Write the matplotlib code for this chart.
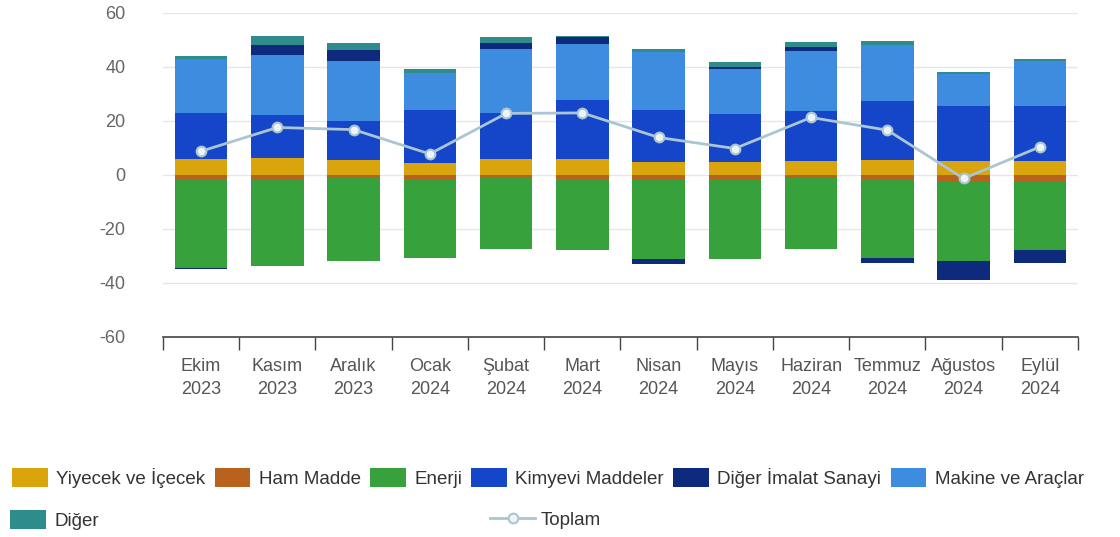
import matplotlib
matplotlib.use("Agg")
import matplotlib.pyplot as plt
import numpy as np
from matplotlib.patches import Patch
from matplotlib.lines import Line2D

plt.rcParams['font.family'] = ['Liberation Sans', 'DejaVu Sans']
plt.rcParams['axes.unicode_minus'] = False

months = ["Ekim\n2023", "Kasım\n2023", "Aralık\n2023", "Ocak\n2024", "Şubat\n2024", "Mart\n2024",
          "Nisan\n2024", "Mayıs\n2024", "Haziran\n2024", "Temmuz\n2024", "Ağustos\n2024", "Eylül\n2024"]

yiyecek = [6.0, 6.3, 5.3, 4.2, 6.0, 6.0, 4.7, 4.7, 5.2, 5.6, 5.1, 5.2]
ham_madde = [-1.5, -1.8, -1.3, -1.6, -1.3, -1.6, -2.0, -1.6, -1.3, -2.0, -2.6, -2.3]
enerji = [-33.0, -32.0, -30.6, -29.3, -26.4, -26.4, -29.3, -29.7, -26.4, -28.9, -29.3, -25.7]
kimyevi = [17.0, 16.0, 14.6, 19.9, 16.7, 21.6, 19.2, 17.7, 18.4, 21.7, 20.3, 20.2]
diger_imalat = [-0.6, 3.7, 4.1, 0.0, 2.2, 2.5, -1.6, 0.9, 1.4, -1.8, -7.1, -4.7]
makine = [19.7, 22.2, 22.1, 13.7, 24.0, 21.0, 21.6, 16.6, 22.3, 20.7, 11.8, 16.7]
diger = [1.3, 3.0, 2.8, 1.2, 2.2, 0.3, 1.2, 1.9, 1.9, 1.6, 0.7, 0.9]
toplam = [8.7, 17.5, 16.7, 7.7, 22.7, 22.9, 13.8, 9.7, 21.2, 16.5, -1.4, 10.3]

colors = {
    "Yiyecek ve İçecek": "#d9a40c",
    "Ham Madde": "#b8621e",
    "Enerji": "#37a23b",
    "Kimyevi Maddeler": "#1545c9",
    "Diğer İmalat Sanayi": "#0e2a7c",
    "Makine ve Araçlar": "#3d8ce0",
    "Diğer": "#2e8c8c",
}
line_color = "#a9c6d2"

series = {
    "Yiyecek ve İçecek": yiyecek,
    "Ham Madde": ham_madde,
    "Enerji": enerji,
    "Kimyevi Maddeler": kimyevi,
    "Diğer İmalat Sanayi": diger_imalat,
    "Makine ve Araçlar": makine,
    "Diğer": diger,
}
# order in which the stacks are built (positive up, negative down)
stack_order = ["Yiyecek ve İçecek", "Ham Madde", "Kimyevi Maddeler", "Enerji",
               "Makine ve Araçlar", "Diğer İmalat Sanayi", "Diğer"]

fig = plt.figure(figsize=(11.2, 5.37), dpi=100)
ax = fig.add_axes([0.1455, 0.373, 0.817, 0.6033])

x = np.arange(len(months))
pos_base = np.zeros(len(months))
neg_base = np.zeros(len(months))
for name in stack_order:
    v = np.array(series[name])
    bottom = np.where(v >= 0, pos_base, neg_base)
    ax.bar(x, v, width=0.69, bottom=bottom, color=colors[name], linewidth=0, zorder=2)
    pos_base = pos_base + np.where(v >= 0, v, 0)
    neg_base = neg_base + np.where(v < 0, v, 0)

ax.plot(x, toplam, color=line_color, lw=2, marker='o', ms=7, mfc='#eef4f6',
        mec=line_color, mew=1.5, zorder=4)

ax.set_xlim(-0.5, len(months) - 0.5)
ax.set_ylim(-60, 60)
ax.set_yticks(range(-60, 61, 20))
ax.yaxis.grid(True, color='#e6e6e6', lw=1, zorder=0)
ax.set_axisbelow(True)
for s in ['top', 'right', 'left']:
    ax.spines[s].set_visible(False)
ax.spines['bottom'].set_color('#444444')
ax.spines['bottom'].set_linewidth(1.2)

ax.set_xticks(x)
ax.set_xticklabels(months, fontsize=13, color='#555555', linespacing=1.5)
ax.tick_params(axis='x', which='major', length=0, pad=15)
ax.set_xticks(np.arange(-0.5, len(months), 1), minor=True)
ax.tick_params(axis='x', which='minor', length=9, width=1, color='#444444')
ax.tick_params(axis='y', length=0, labelsize=13, labelcolor='#666666', pad=27)

# legend
row1 = ["Yiyecek ve İçecek", "Ham Madde", "Enerji", "Kimyevi Maddeler",
        "Diğer İmalat Sanayi", "Makine ve Araçlar"]
h1 = [Patch(facecolor=colors[n], edgecolor='none') for n in row1]
fig.legend(h1, row1, loc='center left', bbox_to_anchor=(12 / 1120, 1 - 478 / 537),
           ncol=6, frameon=False, fontsize=13.5, handlelength=1.9, handleheight=1.2,
           handletextpad=0.45, columnspacing=0.5, borderpad=0, borderaxespad=0,
           labelcolor='#333333')
fig.legend([Patch(facecolor=colors["Diğer"], edgecolor='none')], ["Diğer"],
           loc='center left', bbox_to_anchor=(10 / 1120, 1 - 520 / 537),
           frameon=False, fontsize=13.5, handlelength=1.9, handleheight=1.2,
           handletextpad=0.5, borderpad=0, borderaxespad=0, labelcolor='#333333')
fig.legend([Line2D([], [], color=line_color, lw=2, marker='o', ms=7, mfc='#eef4f6',
                   mec=line_color, mew=1.5)], ["Toplam"],
           loc='center left', bbox_to_anchor=(490 / 1120, 1 - 520 / 537),
           frameon=False, fontsize=13.5, handlelength=2.4,
           handletextpad=0.3, borderpad=0, borderaxespad=0, labelcolor='#333333')

fig.savefig("out.png", dpi=100)
